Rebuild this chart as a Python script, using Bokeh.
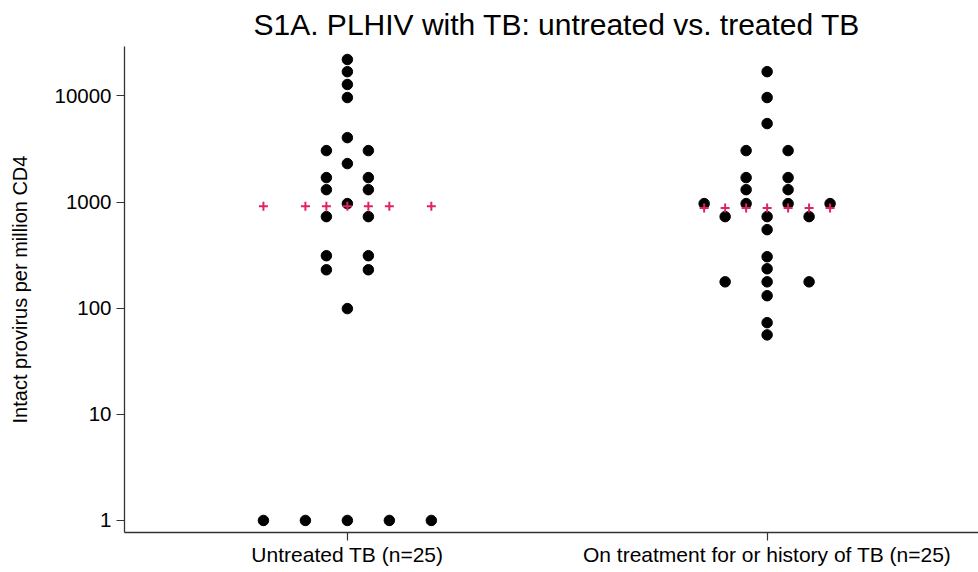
from collections import Counter

from bokeh.plotting import figure
from bokeh.models import FixedTicker, NumeralTickFormatter, Title, ColumnDataSource, Range1d
from bokeh.embed import file_html
from bokeh.resources import INLINE

# ---- data ----
group_labels = ["Untreated TB (n=25)", "On treatment for or history of TB (n=25)"]
group_pos = [1, 2]
untreated = [22000, 16900, 12800, 9640, 4040, 3050, 3050, 2300, 1698, 1698,
             1307, 1307, 966, 728, 728, 312, 312, 230, 230, 99,
             1, 1, 1, 1, 1]
treated = [16900, 9640, 5480, 3050, 3050, 1698, 1698, 1307, 1307, 966,
           966, 966, 966, 728, 728, 728, 549, 305, 235, 177,
           177, 177, 131, 73, 56]
medians = [910, 879]
y_ticks = [1, 10, 100, 1000, 10000]

STEP = 0.1  # horizontal spacing between stacked dots


def dot_positions(vals, center):
    counts = Counter(vals)
    xs, ys, offs = [], [], set()
    for v, n in counts.items():
        for i in range(n):
            o = round((i - (n - 1) / 2) * STEP, 4)
            offs.add(o)
            xs.append(center + o)
            ys.append(v)
    return xs, ys, sorted(offs)


dx, dy, px, py = [], [], [], []
for vals, c, med in zip([untreated, treated], group_pos, medians):
    xs, ys, offs = dot_positions(vals, c)
    dx += xs
    dy += ys
    px += [c + o for o in offs]
    py += [med] * len(offs)

dots = ColumnDataSource(dict(x=dx, y=dy))
meds = ColumnDataSource(dict(x=px, y=py))

p = figure(width=978, height=572, output_backend="svg", toolbar_location=None,
           y_axis_type="log",
           x_range=Range1d(0.469, 2.5036), y_range=Range1d(0.77, 29170),
           min_border_left=124, min_border_right=0, min_border_top=46,
           min_border_bottom=40)

p.title = Title(text="S1A. PLHIV with TB: untreated vs. treated TB", align="left",
                offset=129, standoff=11, text_font="Liberation Sans",
                text_font_size="30px", text_font_style="normal", text_color="#000000")

p.scatter("x", "y", source=dots, size=10.5, color="#000000")
p.scatter("x", "y", source=meds, marker="cross", size=9, line_width=2,
          line_color="#e0245e")

p.outline_line_color = None
p.grid.visible = False
p.background_fill_color = "white"
p.border_fill_color = "white"

for ax in (p.xaxis[0], p.yaxis[0]):
    ax.axis_line_color = "#333333"
    ax.axis_line_width = 1.3
    ax.major_tick_line_color = "#333333"
    ax.major_tick_line_width = 1.2
    ax.major_tick_out = 8
    ax.major_tick_in = 0
    ax.minor_tick_line_color = None
    ax.major_label_text_font = "Liberation Sans"
    ax.major_label_text_color = "#000000"
    ax.axis_label_text_font = "Liberation Sans"
    ax.axis_label_text_font_style = "normal"
    ax.axis_label_text_color = "#000000"
    ax.major_label_standoff = 5

p.yaxis.ticker = FixedTicker(ticks=y_ticks)
p.yaxis.formatter = NumeralTickFormatter(format="0")
p.yaxis.major_label_text_font_size = "20.5px"
p.yaxis.axis_label = "Intact provirus per million CD4"
p.yaxis.axis_label_text_font_size = "20px"
p.yaxis.axis_label_standoff = 20

p.xaxis.ticker = FixedTicker(ticks=group_pos)
p.xaxis.major_label_overrides = {g: lab for g, lab in zip(group_pos, group_labels)}
p.xaxis.major_label_text_font_size = "21px"
p.xaxis.major_label_standoff = 2

open("out.html", "w").write(file_html(p, INLINE))
